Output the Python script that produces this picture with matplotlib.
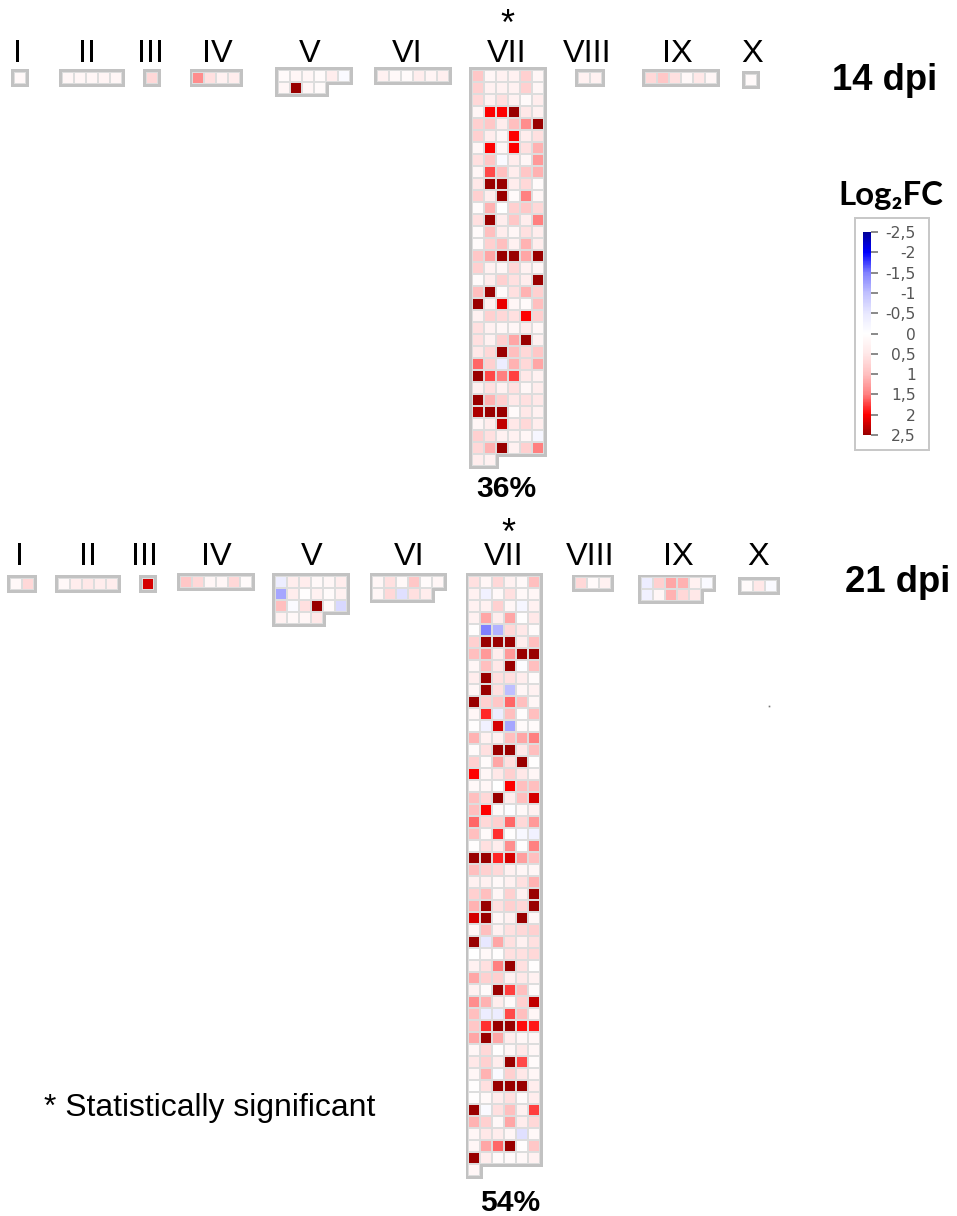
import matplotlib
matplotlib.use('Agg')
import matplotlib.pyplot as plt
from matplotlib.colors import LinearSegmentedColormap, Normalize
from matplotlib.cm import ScalarMappable
from matplotlib.patches import Rectangle

W, H = 957, 1216
names = ['I', 'II', 'III', 'IV', 'V', 'VI', 'VII', 'VIII', 'IX', 'X']

# Log2FC je Gen, zeilenweise
d14_I = [[.15]]
d14_II = [[.2, .2, .2, .25, .2]]
d14_III = [[.7]]
d14_IV = [[1.4, .6, .3, .4]]
d14_V = [[.1, .2, .2, .1, .4, -.1], [.2, 2.5, .2, .1]]
d14_VI = [[.3, .15, .1, .4, .25, .35]]
d14_VII = [
    [.9, .2, .3, .3, .8, .2], [.8, .3, .3, .3, .8, .2], [.7, .3, .6, .3, .1, .4],
    [.2, 2.0, 2.0, 2.5, .5, .3], [.8, .9, .4, 1.0, 1.4, 2.5], [.8, .4, .2, 2.0, .4, .6],
    [.2, 2.0, .2, 2.0, .6, 1.1], [.6, .9, -.1, .4, .2, 1.3], [.2, 1.7, 1.0, .4, .9, 1.1],
    [.5, 2.5, 2.5, .4, .7, .1], [.8, .4, 2.5, .1, 1.5, .2], [.1, 1.1, 0, .8, .9, .7],
    [.6, 2.5, .4, .9, .4, 1.5], [.1, 1.0, .4, .2, .6, .4], [.1, .8, 1.0, .3, 1.1, .4],
    [.9, 1.2, 2.5, 2.5, 1.2, 2.5], [.8, .3, .2, .7, .3, .2], [.1, .4, .8, .6, .4, 2.5],
    [1.0, 2.5, .1, .6, 1.1, .8], [2.5, .3, 2.1, .2, .1, 1.0], [.3, .8, .7, .6, 2.0, .8],
    [.6, .3, .2, .2, .4, .2], [.6, .3, .8, 1.2, 2.5, .3], [.5, .7, 2.5, 1.0, .7, .9],
    [1.6, .8, -.4, 1.1, .7, 1.2], [2.5, 1.7, 1.5, 1.75, .5, .3], [.3, .6, .3, .6, .2, .4],
    [2.5, 1.1, .8, .5, .6, .5], [2.4, 2.5, 2.5, .1, .5, .3], [.2, .4, 2.3, .5, .7, .4],
    [.8, .6, .3, .3, .2, -.2], [.7, 1.1, 2.5, .3, .8, 1.5], [.4, .3],
]
d14_VIII = [[.3, .3]]
d14_IX = [[.7, .9, .6, .15, .5, .2]]
d14_X = [[.1]]

d21_I = [[.15, .7]]
d21_II = [[.15, .4, .5, .4, .4]]
d21_III = [[2.2]]
d21_IV = [[.9, .7, .2, .2, .7, .1]]
d21_V = [[-.4, .4, .4, .15, .2, .4], [-1.2, .4, .05, .3, .1, .3],
         [1.0, -.1, .6, 2.5, .1, -.7], [.3, .15, .2, .5]]
d21_VI = [[.2, .6, .15, .9, .1, .2], [.2, .7, -.6, .6, .4]]
d21_VII = [
    [.6, .2, .7, .3, .15, 1.0], [.3, -.3, .15, .6, .15, .2], [.3, .3, .8, .2, -.2, .3],
    [.3, 1.2, .4, 1.2, .05, .5], [.05, -1.5, -1.1, .7, .5, .1], [.8, 2.5, 2.5, 2.5, .4, 1.0],
    [1.0, 1.3, .4, 1.3, 2.5, 2.5], [.2, 1.0, .5, 2.5, -.05, 1.0], [.4, 2.5, .6, .6, .4, .1],
    [.2, 2.5, .6, -1.0, .2, .3], [2.5, .8, .9, 1.6, 1.0, .2], [.2, 1.85, -.4, 1.0, .05, 1.0],
    [.05, -.3, 2.2, -1.2, .1, .1], [1.1, .3, .3, 1.0, 1.2, 1.5], [.1, .6, 2.5, 2.5, .5, 1.0],
    [.8, .1, 1.2, .6, 2.5, .05], [2.0, .2, .5, .8, .5, .2], [.15, .2, 0, 2.0, 1.0, 1.0],
    [1.0, .7, 2.5, .4, 1.0, 2.2], [1.0, 2.0, .1, -.05, .15, .3], [1.6, .7, .8, 1.6, .7, 1.3],
    [1.0, .1, 1.8, .05, -.15, -.3], [.05, .6, .4, 1.4, .05, 1.5], [2.5, 2.5, 1.85, 2.2, 1.25, 1.0],
    [1.0, .8, .7, .3, .2, .2], [.3, .3, .15, .3, .6, 1.1], [.8, 1.0, .2, .8, .3, 2.5],
    [1.1, 2.5, .6, .8, .7, 2.5], [2.2, 2.5, .2, .3, 2.5, .2], [.2, 1.0, .3, .6, .7, .8],
    [2.5, -.5, 1.2, .6, .3, .6], [.0, .15, .05, .6, .6, .7], [.3, .6, 1.5, 2.5, .6, .05],
    [1.2, .8, .8, .3, .5, .3], [.3, .1, 2.5, 1.75, 1.0, .1], [1.4, 1.1, .4, .1, .8, 2.3],
    [1.0, -.4, -.4, 1.7, 1.0, .2], [.9, 1.8, 2.5, 2.5, 1.95, 1.9], [1.2, 2.5, 1.2, .4, .2, .2],
    [.2, .7, .05, .2, .5, .2], [.5, .8, .4, 2.5, 1.7, .1], [.2, 1.1, -.1, .8, .5, .2],
    [.05, .6, 2.5, 2.5, 2.5, .4], [.05, .15, .4, .6, .1, .4], [2.5, -.1, .6, 1.0, .3, 1.75],
    [1.1, .8, .15, 1.2, .4, .7], [.2, .5, .4, .2, -.6, .15], [.2, 1.2, 1.6, 2.5, .05, .9],
    [2.5, .4, .1, .1, .15, .3], [.2],
]
d21_VIII = [[.7, .1, .3]]
d21_IX = [[-.4, .8, 1.2, 1.1, .3, -.1], [-.3, .2, 1.1, .7, .5]]
d21_X = [[.1, .5, -.1]]

groups14 = [d14_I, d14_II, d14_III, d14_IV, d14_V, d14_VI, d14_VII, d14_VIII, d14_IX, d14_X]
groups21 = [d21_I, d21_II, d21_III, d21_IV, d21_V, d21_VI, d21_VII, d21_VIII, d21_IX, d21_X]

cbar_ticks = [-2.5, -2, -1.5, -1, -0.5, 0, 0.5, 1, 1.5, 2, 2.5]
cbar_labels = ['-2,5', '-2', '-1,5', '-1', '-0,5', '0', '0,5', '1', '1,5', '2', '2,5']

# Layout in Pixeln: Mitte der ersten Zelle je Gruppe, Mitte der Überschrift
origin14 = [(20, 77.7), (68, 77.7), (152, 77.7), (198.3, 77.7), (284, 75.7),
            (382.7, 75.7), (478, 76), (584, 78), (650.7, 77.7), (750.7, 80)]
origin21 = [(15.7, 584), (64, 584), (148, 584), (186, 582), (280.7, 582),
            (378.3, 582), (474.3, 581.7), (580.7, 583.3), (646.7, 583.3), (746.7, 586)]
title14 = [18, 87, 151, 217, 310, 407, 507, 587, 677, 752]
title21 = [20, 88, 145, 216, 312, 409, 504, 590, 678, 758]
pitch = 12
frame = '#c2c2c2'
gap = '#dddddd'
sans = ['Liberation Sans', 'DejaVu Sans']

nodes = [(-2.5, '#000099'), (-2, '#0000ff'), (-1.5, '#8080ff'), (-1, '#c0c0ff'), (-.5, '#e8e8ff'),
         (0, '#ffffff'), (.5, '#ffe8e8'), (1, '#ffc0c0'), (1.5, '#ff8080'), (2, '#ff0000'), (2.5, '#990000')]
cmap = LinearSegmentedColormap.from_list('fc', [((v + 2.5) / 5, c) for v, c in nodes])
norm = Normalize(-2.5, 2.5)


def px(v):
    return v * 72 / 100


fig = plt.figure(figsize=(W / 100, H / 100), dpi=100)
ax = fig.add_axes([0, 0, 1, 1])
ax.set_xlim(0, W)
ax.set_ylim(H, 0)
ax.axis('off')


def draw_group(rows, x0, y0):
    # erst der graue Rahmen, dann das helle Raster, dann die Zellen
    for half, color, z in [(8.8, frame, 1), (6, gap, 2)]:
        for r, row in enumerate(rows):
            for c in range(len(row)):
                ax.add_patch(Rectangle((x0 + c * pitch - half, y0 + r * pitch - half), 2 * half, 2 * half,
                                       fc=color, ec='none', zorder=z))
    for r, row in enumerate(rows):
        for c, v in enumerate(row):
            ax.add_patch(Rectangle((x0 + c * pitch - 5, y0 + r * pitch - 5), 10, 10,
                                   fc=cmap(norm(v)), ec='none', zorder=3))


for groups, origin in [(groups14, origin14), (groups21, origin21)]:
    for rows, (x0, y0) in zip(groups, origin):
        draw_group(rows, x0, y0)

for name, x in zip(names, title14):
    ax.text(x, 62, name, ha='center', va='baseline', fontsize=px(32.5), family=sans)
for name, x in zip(names, title21):
    ax.text(x, 565, name, ha='center', va='baseline', fontsize=px(32.5), family=sans)

ax.text(885, 81, '14 dpi', ha='center', va='center', fontsize=px(36.5), weight='bold', family=sans)
ax.text(898, 582, '21 dpi', ha='center', va='center', fontsize=px(36.5), weight='bold', family=sans)
ax.text(891, 196, 'Log₂FC', ha='center', va='center', fontsize=px(33), weight='bold',
        family=['Lato', 'Open Sans', 'DejaVu Sans'])
ax.text(506, 489, '36%', ha='center', va='center', fontsize=px(30), weight='bold', family=sans)
ax.text(510, 1203, '54%', ha='center', va='center', fontsize=px(30), weight='bold', family=sans)
ax.text(507, 25, '*', ha='center', va='center', fontsize=px(36), family=sans)
ax.text(508, 534, '*', ha='center', va='center', fontsize=px(36), family=sans)
ax.text(44, 1108, '* Statistically significant', ha='left', va='center', fontsize=px(31.9), family=sans)
ax.plot([769], [706], 's', ms=1.2, color='#777777', mew=0)

# Legende
ax.add_patch(Rectangle((854.5, 217.5), 74.5, 232.5, fc='white', ec='#c8c8c8', lw=px(2)))
cax = fig.add_axes([863 / W, 1 - 435 / H, 8 / W, 203 / H])
cb = fig.colorbar(ScalarMappable(norm=norm, cmap=cmap), cax=cax, ticks=cbar_ticks)
cb.outline.set_visible(False)
cax.invert_yaxis()
cax.set_yticks(cbar_ticks)
cax.set_yticklabels(cbar_labels)
cax.tick_params(axis='y', length=px(7), width=px(1.5), color='#666666', labelcolor='#555555',
                labelsize=px(15.5), pad=px(38))
for lab in cax.get_yticklabels():
    lab.set_ha('right')
    lab.set_family('DejaVu Sans')

fig.savefig('out.png', dpi=100)
